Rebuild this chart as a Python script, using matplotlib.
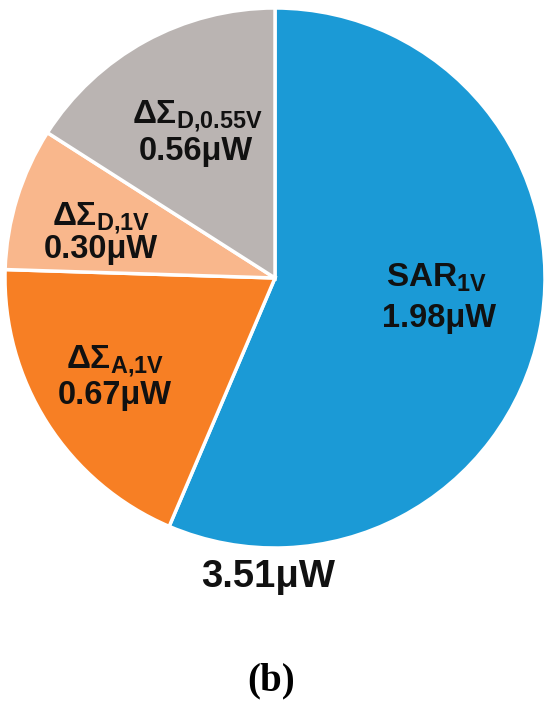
import matplotlib
matplotlib.use("Agg")
import matplotlib.pyplot as plt

# power breakdown (uW)
names = ["SAR", "DSA", "DSD1", "DSD055"]
labels = [r"$\mathbf{SAR_{1V}}$", r"$\mathbf{\Delta\Sigma_{A{,}1V}}$",
          r"$\mathbf{\Delta\Sigma_{D{,}1V}}$", r"$\mathbf{\Delta\Sigma_{D{,}0.55V}}$"]
values = [1.98, 0.67, 0.30, 0.56]
total = 3.51
colors = ["#1b9ad6", "#f77f24", "#f9b78c", "#bab4b2"]

plt.rcParams['font.family'] = ['Liberation Sans', 'DejaVu Sans']
plt.rcParams['mathtext.fontset'] = 'custom'
plt.rcParams['mathtext.rm'] = 'Liberation Sans:bold'
plt.rcParams['mathtext.bf'] = 'Liberation Sans:bold'
plt.rcParams['mathtext.it'] = 'Liberation Sans:bold'

fig = plt.figure(figsize=(5.5, 7.05), dpi=100)
# pie centre ~ (275, 278) px, radius ~270 px
cx, cy, r = 275, 278, 270
ax = fig.add_axes([(cx - r) / 550, (705 - cy - r) / 705, 2 * r / 550, 2 * r / 705])
ax.pie(values, colors=colors, startangle=90, counterclock=False,
       wedgeprops=dict(edgecolor="white", linewidth=2.5))
ax.set_xlim(-1, 1)
ax.set_ylim(-1, 1)
ax.set_aspect("equal")
ax.axis("off")


def px(x, y):
    return (x - cx) / r, (cy - y) / r


# label baselines in pixels (name line, value line)
pos = {
    "SAR": [(437, 287), (439, 327)],
    "DSA": [(115, 368), (115, 404)],
    "DSD1": [(101, 225), (101, 258)],
    "DSD055": [(197, 123), (196, 160)],
}
for n, lab, v in zip(names, labels, values):
    (x1, y1), (x2, y2) = pos[n]
    ax.text(*px(x1, y1), lab, ha="center", va="baseline", fontsize=24,
            color="#111111")
    ax.text(*px(x2, y2), "%.2fμW" % v, ha="center", va="baseline", fontsize=23.5,
            fontweight="bold", color="#111111")

fig.text(268 / 550, 1 - 587 / 705, "%.2fμW" % total, ha="center", va="baseline",
         fontsize=27.5, fontweight="bold", color="#111111")
fig.text(271 / 550, 1 - 690 / 705, "(b)", ha="center", va="baseline",
         fontsize=28, fontweight="bold", family="Liberation Serif")

fig.savefig("out.png", dpi=100)
